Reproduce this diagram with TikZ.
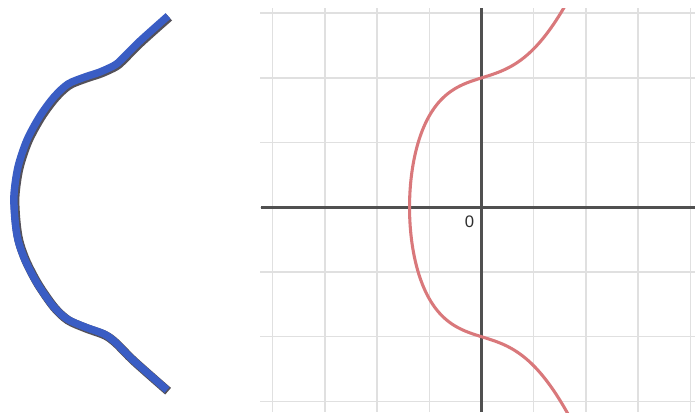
\documentclass[tikz,border=0pt]{standalone}
\usepackage{fontspec}
\setmainfont{Liberation Sans}
\definecolor{gridgray}{HTML}{E0E0E0}
\definecolor{axisgray}{HTML}{505050}
\definecolor{labelgray}{HTML}{2E2E2E}
\definecolor{curvered}{HTML}{D9787B}
\definecolor{strokeblue}{HTML}{3A5DC4}
\definecolor{shadowdark}{HTML}{2A2630}
\tikzset{
  gridline/.style={draw=gridgray, line width=1.1pt},
  axisline/.style={draw=axisgray, line width=1.8pt},
  ecurve/.style={draw=curvered, line width=2.3pt, line cap=round},
  bluestroke/.style={draw=strokeblue, line width=5.6pt, line cap=butt, line join=round},
  bluebase/.style={draw=shadowdark, line width=6.6pt, line cap=butt, line join=round, opacity=0.8},
  ticklabel/.style={text=labelgray, font=\fontsize{12.5}{13}\selectfont, inner sep=0pt}
}
\begin{document}
\begin{tikzpicture}[x=0.75pt,y=-0.75pt]
\useasboundingbox (0,0) rectangle (695,412);
\fill[white] (0,0) rectangle (695,412);

% ---- left: hand-drawn blue curve ----
\begin{scope}[shift={(1.1,1.2)}]
\draw[bluebase] plot[smooth, tension=0.5] coordinates {(168,16) (140,41) (122,59) (115,65) (100,72) (85,77) (68,84) (54,97) (40,116) (27,140) (18,167) (14,195) (15,220) (18,240) (25,260) (37,283) (53,306) (67,319) (85,327) (104,334) (115,342) (133,360) (167,390)};
\end{scope}
\draw[bluestroke] plot[smooth, tension=0.5] coordinates {(168,16) (140,41) (122,59) (115,65) (100,72) (85,77) (68,84) (54,97) (40,116) (27,140) (18,167) (14,195) (15,220) (18,240) (25,260) (37,283) (53,306) (67,319) (85,327) (104,334) (115,342) (133,360) (167,390)};

% ---- right: grid ----
\foreach \k in {-4,...,4} {
  \draw[gridline] ({481.5+52.2*\k},8) -- ({481.5+52.2*\k},412);
}
\foreach \k in {-3,...,3} {
  \draw[gridline] (260,{207.3+64.7*\k}) -- (695,{207.3+64.7*\k});
}
% axes
\coordinate (xl) at (261,207.3);
\coordinate (xr) at (695,207.3);
\coordinate (yt) at (481.5,8);
\coordinate (yb) at (481.5,412);
\draw[axisline] (xl) -- (xr);
\draw[axisline] (yt) -- (yb);

% elliptic curve y^2 = x^3 + x + 4
\begin{scope}
\clip (260,8) rectangle (695,412);
\draw[ecurve] plot[domain=-1.8:1.8, samples=240, smooth, variable=\u]
  ({481.5 + 52.2*(-1.3788+(\u)*(\u))},
   {207.3 - 64.7*(\u)*sqrt((-1.3788+(\u)*(\u))*(-1.3788+(\u)*(\u)) - 1.3788*(-1.3788+(\u)*(\u)) + 2.90109)});
\end{scope}

\node[ticklabel] (origin) at (469.5,221.5) {0};
\end{tikzpicture}
\end{document}
